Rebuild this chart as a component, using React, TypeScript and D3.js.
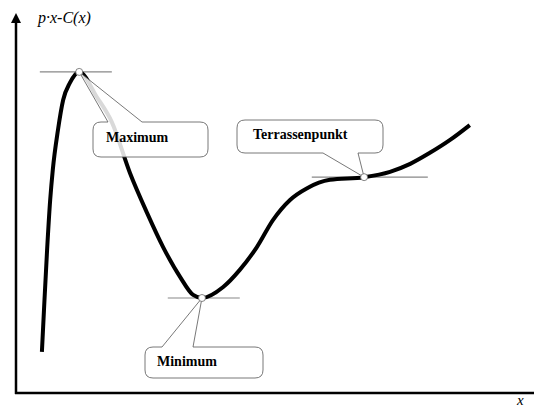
import * as d3 from "d3";

// curve of p·x - C(x), in abstract units (x: 0..10, y: 0..10)
const curveX = [0.5, 0.54, 0.6, 0.66, 0.71, 0.81, 0.91, 1.04, 1.22, 1.56, 1.85, 2.2, 2.53, 2.84, 3.17, 3.42, 3.59, 4.0, 4.32, 4.65, 4.96, 5.29, 5.62, 6.06, 6.72, 7.22, 7.61, 7.99, 8.38, 8.76];
const curveY = [1.08, 2.18, 3.76, 5.08, 5.87, 6.92, 7.71, 8.16, 8.45, 7.79, 7.13, 5.79, 4.74, 3.84, 3.05, 2.58, 2.5, 2.79, 3.24, 3.84, 4.55, 5.08, 5.39, 5.61, 5.68, 5.82, 6.03, 6.32, 6.66, 7.05];

// special points and their tangent extents
const pointNames = ["Maximum", "Minimum", "Terrassenpunkt"];
const pointX = [1.22, 3.59, 6.72];
const pointY = [8.45, 2.5, 5.68];
const tangentFrom = [0.46, 2.93, 5.71];
const tangentTo = [1.85, 4.32, 7.95];

const yLabel = "p·x-C(x)";
const xLabel = "x";

const W = 534;
const H = 407;
const x = d3.scaleLinear().domain([0, 10]).range([16, 534]);
const y = d3.scaleLinear().domain([0, 10]).range([393, 13]);

const serif = "'Liberation Serif', 'Times New Roman', serif";

// callout boxes (layout only)
const boxes = [
  { bx: 93, by: 122, bw: 115, bh: 35, side: "top", w0: 108, w1: 142, tx: 106, ty: 142, op: 0.85 },
  { bx: 145, by: 347, bw: 118, bh: 31, side: "top", w0: 162, w1: 193, tx: 157, ty: 366, op: 1 },
  { bx: 237, by: 120, bw: 146, bh: 33, side: "bottom", w0: 323, w1: 358, tx: 253, ty: 139, op: 1 },
];

function calloutPath(b: any, tipX: number, tipY: number) {
  const r = 8;
  const { bx, by, bw, bh } = b;
  const p = d3.path();
  p.moveTo(bx + r, by);
  if (b.side === "top") {
    p.lineTo(b.w0, by);
    p.lineTo(tipX, tipY);
    p.lineTo(b.w1, by);
  }
  p.lineTo(bx + bw - r, by);
  p.quadraticCurveTo(bx + bw, by, bx + bw, by + r);
  p.lineTo(bx + bw, by + bh - r);
  p.quadraticCurveTo(bx + bw, by + bh, bx + bw - r, by + bh);
  if (b.side === "bottom") {
    p.lineTo(b.w1, by + bh);
    p.lineTo(tipX, tipY);
    p.lineTo(b.w0, by + bh);
  }
  p.lineTo(bx + r, by + bh);
  p.quadraticCurveTo(bx, by + bh, bx, by + bh - r);
  p.lineTo(bx, by + r);
  p.quadraticCurveTo(bx, by, bx + r, by);
  p.closePath();
  return p.toString();
}

export default function App() {
  const data = curveX.map((v, i) => [v, curveY[i]] as [number, number]);
  const line = d3
    .line<[number, number]>()
    .x((d) => x(d[0]))
    .y((d) => y(d[1]))
    .curve(d3.curveMonotoneX);

  const x0 = x(0);
  const y0 = y(0);
  const yTop = y(10);

  return (
    <svg
      width={W}
      height={H}
      style={{ position: "absolute", left: 0, top: 0, background: "#fff", fontFamily: serif }}
    >
      {/* axes */}
      <line x1={x0} y1={y0 + 1} x2={x0} y2={yTop + 8} stroke="#000" strokeWidth={2.5} />
      <line x1={x0 - 1} y1={y0} x2={W} y2={y0} stroke="#000" strokeWidth={2.5} />
      <path d={`M${x0},${yTop} L${x0 - 5},${yTop + 10} L${x0 + 5},${yTop + 10} Z`} fill="#000" />
      <text x={38} y={23} textAnchor="start" fontStyle="italic" fontSize={16} style={{ fontFamily: serif }}>{yLabel}</text>
      <text x={W - 17} y={H - 2} fontStyle="italic" fontSize={15} style={{ fontFamily: serif }}>{xLabel}</text>

      {/* tangents */}
      {pointNames.map((n, i) => (
        <line key={n} x1={x(tangentFrom[i])} x2={x(tangentTo[i])} y1={y(pointY[i])} y2={y(pointY[i])} stroke="#888" strokeWidth={1.2} />
      ))}

      {/* curve */}
      <path d={line(data) ?? ""} fill="none" stroke="#000" strokeWidth={4} strokeLinejoin="round" />

      {/* callouts */}
      {boxes.map((b, i) => (
        <g key={pointNames[i]}>
          <path d={calloutPath(b, x(pointX[i]), y(pointY[i]))} fill="#fff" fillOpacity={b.op} stroke="#555" strokeWidth={0.8} />
          <text x={b.tx} y={b.ty} fontWeight="bold" fontSize={14} style={{ fontFamily: serif }}>{pointNames[i]}</text>
        </g>
      ))}

      {/* point markers */}
      {pointNames.map((n, i) => (
        <circle key={n} cx={x(pointX[i])} cy={y(pointY[i])} r={3.5} fill="#fff" stroke="#666" strokeWidth={0.8} />
      ))}
    </svg>
  );
}
